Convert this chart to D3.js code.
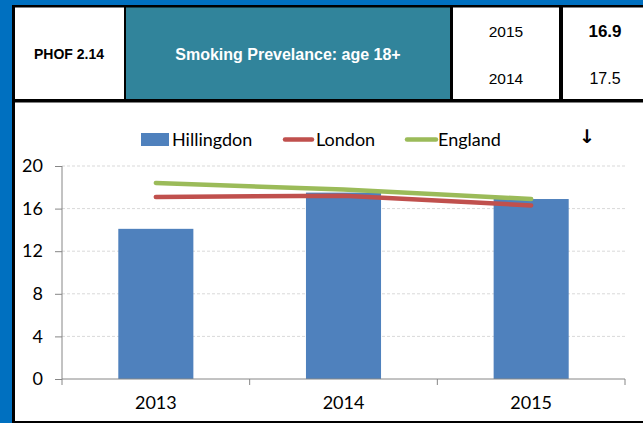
<!DOCTYPE html>
<html>
<head>
<meta charset="utf-8">
<script src="https://cdn.jsdelivr.net/npm/d3@7"></script>
<style>
  html, body { margin: 0; padding: 0; background: #0070C0; }
  svg { display: block; }
</style>
</head>
<body>
<svg id="chart" width="643" height="423"></svg>
<script>
// ---- data ----
const categories = ["2013", "2014", "2015"];
const hillingdon = [14.1, 17.5, 16.9];
const london = [17.1, 17.2, 16.3];
const england = [18.4, 17.8, 16.9];
const yTicks = [0, 4, 8, 12, 16, 20];
const seriesNames = ["Hillingdon", "London", "England"];
const indicatorCode = "PHOF 2.14";
const indicatorTitle = "Smoking Prevelance: age 18+";
const headerYears = ["2015", "2014"];
const headerValues = ["16.9", "17.5"];
const trendSymbol = "\u2193";

const colors = { bar: "#4F81BD", london: "#C0504D", england: "#9BBB59" };
const chartFont = "Lato, 'Noto Sans', sans-serif";
const headFont = "'Liberation Sans', Arial, sans-serif";

const svg = d3.select("#chart");

// ---- background & header table ----
svg.append("rect").attr("x", 0).attr("y", 0).attr("width", 643).attr("height", 423).attr("fill", "#0070C0");
svg.append("rect").attr("x", 12).attr("y", 5).attr("width", 631).attr("height", 418).attr("fill", "#000");
svg.append("rect").attr("x", 15).attr("y", 7.5).attr("width", 109).attr("height", 91.5).attr("fill", "#fff");
svg.append("rect").attr("x", 126).attr("y", 7.5).attr("width", 324).attr("height", 91.5).attr("fill", "#31849B");
svg.append("rect").attr("x", 453).attr("y", 7.5).attr("width", 106).attr("height", 91.5).attr("fill", "#fff");
svg.append("rect").attr("x", 563).attr("y", 7.5).attr("width", 80).attr("height", 91.5).attr("fill", "#fff");
// chart area
svg.append("rect").attr("x", 15).attr("y", 102.5).attr("width", 628).attr("height", 318.5).attr("fill", "#fff");

svg.append("text").attr("x", 69).attr("y", 59).attr("text-anchor", "middle")
  .attr("font-family", headFont).attr("font-weight", "bold").attr("font-size", 14).attr("fill", "#000")
  .text(indicatorCode);
svg.append("text").attr("x", 288).attr("y", 60).attr("text-anchor", "middle")
  .attr("font-family", headFont).attr("font-weight", "bold").attr("font-size", 16).attr("fill", "#fff")
  .text(indicatorTitle);
const headerRowsY = [37, 84];
headerYears.forEach((yr, i) => {
  svg.append("text").attr("x", 506).attr("y", headerRowsY[i]).attr("text-anchor", "middle")
    .attr("font-family", headFont).attr("font-size", 15.5).attr("fill", "#000").text(yr);
});
headerValues.forEach((v, i) => {
  svg.append("text").attr("x", 605).attr("y", headerRowsY[i]).attr("text-anchor", "middle")
    .attr("font-family", headFont).attr("font-size", i === 0 ? 17 : 16)
    .attr("font-weight", i === 0 ? "bold" : "normal").attr("fill", "#000").text(v);
});

// ---- scales ----
const x = d3.scaleBand().domain(categories).range([62, 625]).padding(0);
const y = d3.scaleLinear().domain([0, 20]).range([379, 166]);
const barW = x.bandwidth() * 0.4;

// gridlines
svg.append("g").selectAll("line").data(yTicks.filter(t => t > 0)).join("line")
  .attr("x1", 62).attr("x2", 625)
  .attr("y1", d => y(d)).attr("y2", d => y(d))
  .attr("stroke", "#D9D9D9").attr("stroke-width", 1).attr("stroke-dasharray", "3,2");

// bars
svg.append("g").selectAll("rect").data(hillingdon).join("rect")
  .attr("x", (d, i) => x(categories[i]) + (x.bandwidth() - barW) / 2)
  .attr("width", barW)
  .attr("y", d => y(d))
  .attr("height", d => y(0) - y(d))
  .attr("fill", colors.bar);

// lines
const line = d3.line()
  .x((d, i) => x(categories[i]) + x.bandwidth() / 2)
  .y(d => y(d));
svg.append("path").datum(london).attr("d", line).attr("fill", "none")
  .attr("stroke", colors.london).attr("stroke-width", 4.5).attr("stroke-linecap", "round");
svg.append("path").datum(england).attr("d", line).attr("fill", "none")
  .attr("stroke", colors.england).attr("stroke-width", 4.5).attr("stroke-linecap", "round");

// y axis
const yAxis = svg.append("g").attr("transform", "translate(62,0)")
  .call(d3.axisLeft(y).tickValues(yTicks).tickSize(7).tickPadding(12).tickFormat(d3.format("d")));
yAxis.select(".domain").attr("stroke", "#868686").attr("d", "M0,166V385");
yAxis.selectAll(".tick line").attr("stroke", "#868686");
yAxis.selectAll("text").attr("font-family", chartFont).attr("font-size", 18).attr("fill", "#000");

// x axis
const xAxis = svg.append("g").attr("transform", "translate(0,379)")
  .call(d3.axisBottom(x).tickSize(0).tickPadding(17));
xAxis.select(".domain").attr("stroke", "#868686").attr("d", "M62,0H625");
xAxis.selectAll("text").attr("font-family", chartFont).attr("font-size", 18).attr("fill", "#000");
svg.append("g").selectAll("line").data(categories.slice(1).concat(["end"])).join("line")
  .attr("x1", (d, i) => i < categories.length - 1 ? x(d) : x.range()[1])
  .attr("x2", (d, i) => i < categories.length - 1 ? x(d) : x.range()[1])
  .attr("y1", 379).attr("y2", 385).attr("stroke", "#868686");

// legend
const lg = svg.append("g").attr("font-family", chartFont).attr("font-size", 18).attr("fill", "#000");
lg.append("rect").attr("x", 141).attr("y", 133).attr("width", 28).attr("height", 13).attr("fill", colors.bar);
lg.append("text").attr("x", 172).attr("y", 145.5).text(seriesNames[0]);
lg.append("line").attr("x1", 285).attr("x2", 312).attr("y1", 139.5).attr("y2", 139.5)
  .attr("stroke", colors.london).attr("stroke-width", 4.5).attr("stroke-linecap", "round");
lg.append("text").attr("x", 316).attr("y", 145.5).text(seriesNames[1]);
lg.append("line").attr("x1", 407).attr("x2", 436).attr("y1", 139.5).attr("y2", 139.5)
  .attr("stroke", colors.england).attr("stroke-width", 4.5).attr("stroke-linecap", "round");
lg.append("text").attr("x", 438).attr("y", 145.5).text(seriesNames[2]);

svg.append("text").attr("x", 587).attr("y", 143).attr("text-anchor", "middle")
  .attr("font-family", "'DejaVu Sans', sans-serif").attr("font-weight", "bold").attr("font-size", 19).attr("fill", "#000")
  .text(trendSymbol);
</script>
</body>
</html>
